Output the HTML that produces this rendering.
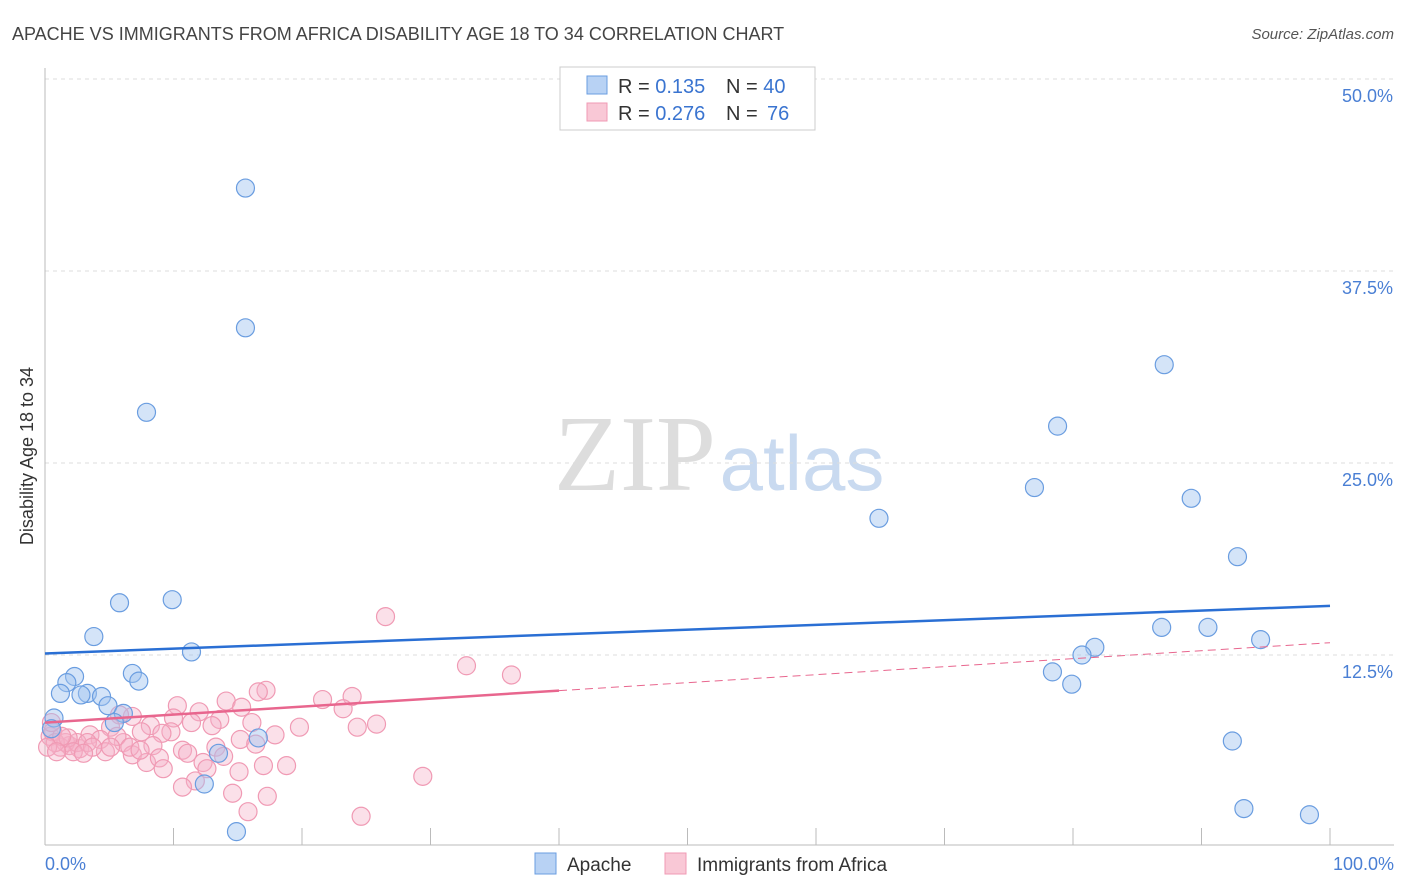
<!DOCTYPE html>
<html><head><meta charset="utf-8"><style>
body{margin:0;background:#fff;font-family:"Liberation Sans",sans-serif;}
svg{display:block}
</style></head><body>
<svg id="chart" width="1406" height="892">
<text x="12" y="40" font-size="18" fill="#444">APACHE VS IMMIGRANTS FROM AFRICA DISABILITY AGE 18 TO 34 CORRELATION CHART</text>
<text x="1394" y="39" font-size="15" fill="#555" font-style="italic" text-anchor="end">Source: ZipAtlas.com</text>
<g>
<text x="635" y="490" font-size="108" font-family="Liberation Serif,serif" fill="#ddd" text-anchor="middle">ZIP</text>
<text x="802" y="490" font-size="78" fill="#c9daf0" text-anchor="middle">atlas</text>
</g>
<g id="grid"></g>
<g id="axes"></g>
<g id="marks"></g>
<text transform="translate(33,456) rotate(-90)" font-size="18" fill="#333" text-anchor="middle">Disability Age 18 to 34</text>
<text x="45" y="870" font-size="18" fill="#4a7fd4">0.0%</text>
<text x="1394" y="870" font-size="18" fill="#4a7fd4" text-anchor="end">100.0%</text>
<g>
<rect x="560" y="67" width="255" height="63" fill="#fff" stroke="#ccc"/>
<rect x="587" y="76" width="20" height="18" fill="#b8d2f4" stroke="#6a9de0"/>
<text x="618" y="93" font-size="20" fill="#333">R = <tspan fill="#3a74d0">0.135</tspan><tspan x="726">N = </tspan><tspan fill="#3a74d0">40</tspan></text>
<rect x="587" y="103" width="20" height="18" fill="#f9c8d6" stroke="#f09ab4"/>
<text x="618" y="120" font-size="20" fill="#333">R = <tspan fill="#3a74d0">0.276</tspan><tspan x="726">N = </tspan><tspan fill="#3a74d0" x="767">76</tspan></text>
</g>
<g>
<rect x="535" y="853" width="21" height="21" fill="#b8d2f4" stroke="#6a9de0"/>
<text x="567" y="871" font-size="19" fill="#333">Apache</text>
<rect x="665" y="853" width="21" height="21" fill="#f9c8d6" stroke="#f09ab4"/>
<text x="697" y="871" font-size="19" fill="#333">Immigrants from Africa</text>
</g>
</svg>
<script>
const yTicks=[12.5,25.0,37.5,50.0];
const xTicks=[10,20,30,40,50,60,70,80,90,100];
const apacheX=[15.6,15.6,7.9,5.8,9.9,3.8,11.4,2.3,1.7,1.2,3.3,2.8,4.4,4.9,6.8,7.3,6.1,5.4,0.7,0.5,16.6,13.5,12.4,14.9,87.1,78.8,77.0,89.2,64.9,92.8,86.9,90.5,94.6,81.7,80.7,78.4,79.9,92.4,93.3,98.4];
const apacheY=[42.9,33.8,28.3,15.9,16.1,13.7,12.7,11.1,10.7,10.0,10.0,9.9,9.8,9.2,11.3,10.8,8.7,8.1,8.4,7.7,7.1,6.1,4.1,1.0,31.4,27.4,23.4,22.7,21.4,18.9,14.3,14.3,13.5,13.0,12.5,11.4,10.6,6.9,2.5,2.1];
const africaX=[26.5,32.8,36.3,17.2,16.6,23.9,21.6,14.1,10.3,15.3,23.2,12.0,10.0,6.8,5.8,13.6,11.4,16.1,25.8,24.3,19.8,8.2,13.0,7.5,9.8,9.1,5.1,17.9,15.2,16.4,3.5,4.3,6.1,8.4,13.3,10.7,11.1,4.7,1.9,2.7,1.2,0.4,0.6,6.8,13.9,12.3,7.9,8.9,12.6,9.2,17.0,18.8,15.1,29.4,11.7,10.7,14.6,17.3,15.8,24.6,1.6,2.5,3.3,0.8,1.8,1.3,2.2,3.7,5.6,6.6,7.4,5.1,0.2,3.0,0.5,0.9];
const africaY=[15.0,11.8,11.2,10.2,10.1,9.8,9.6,9.5,9.2,9.1,9.0,8.8,8.4,8.5,8.6,8.3,8.1,8.1,8.0,7.8,7.8,7.9,7.9,7.5,7.5,7.4,7.8,7.3,7.0,6.7,7.3,7.0,6.8,6.6,6.5,6.3,6.1,6.2,6.6,6.4,6.5,7.2,7.5,6.0,5.9,5.5,5.5,5.8,5.1,5.1,5.3,5.3,4.9,4.6,4.3,3.9,3.5,3.3,2.3,2.0,6.8,6.8,6.8,6.8,7.1,7.2,6.2,6.5,7.2,6.5,6.3,6.5,6.5,6.1,8.1,6.2];
const apacheTrend=[12.6,15.7];
const africaTrend=[8.1,13.3];
const africaSolidEnd=40;
const X0=45,X1=1330,Y0=847,YSCALE=192/12.5;
function sx(v){return X0+(X1-X0)*v/100;}
function sy(v){return Y0-v*YSCALE;}
const NS='http://www.w3.org/2000/svg';
function mk(tag,attrs,parent){const e=document.createElementNS(NS,tag);for(const k in attrs)e.setAttribute(k,attrs[k]);parent.appendChild(e);return e;}
const grid=document.getElementById('grid'),axes=document.getElementById('axes'),marks=document.getElementById('marks');
yTicks.forEach(t=>{
 const l=mk('line',{x1:45,x2:1394,y1:sy(t),y2:sy(t),stroke:'#ddd','stroke-dasharray':'4,4'},grid);
 
 
 const tx=mk('text',{x:1393,y:sy(t)+23,'font-size':18,fill:'#4a7fd4','text-anchor':'end'},grid);
 tx.textContent=t.toFixed(1)+'%';
 
 
});
const ya=mk('line',{x1:45,x2:45,y1:68,y2:845,stroke:'#bbb'},axes);


const xa=mk('line',{x1:45,x2:1394,y1:845,y2:845,stroke:'#bbb'},axes);


xTicks.forEach(t=>{
 const l=mk('line',{x1:sx(t),x2:sx(t),y1:828,y2:845,stroke:'#bbb'},axes);
 
 
});
function dots(xs,ys,fill,stroke,name){
 xs.forEach((x,i)=>{
  const c=mk('circle',{cx:sx(x),cy:sy(ys[i]),r:9,fill:fill,stroke:stroke,'stroke-width':1.2},marks);
  
  
 });
}
dots(africaX,africaY,'rgba(246,178,200,0.4)','#f09ab4','africa-point');
dots(apacheX,apacheY,'rgba(160,196,240,0.45)','#6a9de0','apache-point');
const at=mk('line',{x1:sx(0),y1:sy(apacheTrend[0]),x2:sx(100),y2:sy(apacheTrend[1]),stroke:'#2a6fd4','stroke-width':2.5},marks);


const ym=africaTrend[0]+(africaTrend[1]-africaTrend[0])*africaSolidEnd/100;
const pt=mk('line',{x1:sx(0),y1:sy(africaTrend[0]),x2:sx(africaSolidEnd),y2:sy(ym),stroke:'#e8668e','stroke-width':2.5},marks);


const pd=mk('line',{x1:sx(africaSolidEnd),y1:sy(ym),x2:sx(100),y2:sy(africaTrend[1]),stroke:'#e8668e','stroke-width':1,'stroke-dasharray':'8,5'},marks);


</script>
</body></html>
